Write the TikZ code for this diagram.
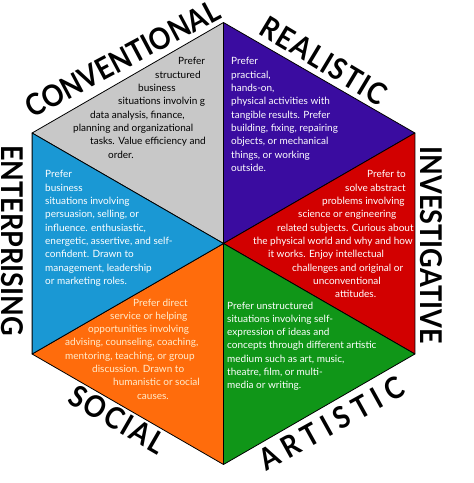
\documentclass[tikz,border=0pt]{standalone}
\usepackage{fontspec}
\setmainfont{Lato}
\definecolor{convgray}{RGB}{200,200,200}
\definecolor{realpurple}{RGB}{58,12,160}
\definecolor{invred}{RGB}{210,0,0}
\definecolor{artgreen}{RGB}{16,150,24}
\definecolor{socorange}{RGB}{255,108,12}
\definecolor{entblue}{RGB}{26,152,212}
\definecolor{cream}{RGB}{255,236,205}
\begin{document}
\begin{tikzpicture}[x=1pt, y=-1pt, line join=round, line cap=round,
  sector/.style={draw=black, line width=0.8pt},
  hexlbl/.style={font=\fontsize{30}{30}\selectfont\bfseries, inner sep=0pt, xscale=0.9},
  spaced/.style={font=\fontsize{30}{30}\selectfont\bfseries\addfontfeature{LetterSpace=#1}},
  blurb/.style={font=\fontsize{10}{13.3}\selectfont, align=left, inner sep=0pt, anchor=north west}]
\useasboundingbox (0,0) rectangle (474,483);
% hexagon corners
\coordinate (c) at (223.5,243.5);
\coordinate (t) at (223.5,22.5);
\coordinate (ul) at (32.1,133);
\coordinate (ll) at (32.1,354);
\coordinate (b) at (223.5,464.5);
\coordinate (lr) at (414.9,354);
\coordinate (ur) at (414.9,133);
% sectors
\filldraw[sector, fill=convgray] (c) -- (ul) -- (t) -- cycle;
\filldraw[sector, fill=realpurple] (c) -- (t) -- (ur) -- cycle;
\filldraw[sector, fill=invred] (c) -- (ur) -- (lr) -- cycle;
\filldraw[sector, fill=artgreen] (c) -- (lr) -- (b) -- cycle;
\filldraw[sector, fill=socorange] (c) -- (b) -- (ll) -- cycle;
\filldraw[sector, fill=entblue] (c) -- (ll) -- (ul) -- cycle;
% type names
\node[rotate=28, hexlbl] (conv) at (122.5,58.5) {CONVENTIONAL};
\node[rotate=-31, hexlbl, spaced=5] (real) at (324,60.5) {REALISTIC};
\node[rotate=-90, hexlbl] (inv) at (431,245) {INVESTIGATIVE};
\node[rotate=29, hexlbl, spaced=23] (art) at (331.5,423.5) {ARTISTIC};
\node[rotate=-30, hexlbl, spaced=8] (soc) at (117.5,419.5) {SOCIAL};
\node[rotate=-90, hexlbl] (ent) at (12,240.5) {ENTERPRISING};
% descriptions
\node[blurb] (convtext) at (73,57.5) {\hspace*{105pt}Prefer\\ \hspace*{82pt}structured\\
  \hspace*{65pt}business\\ \hspace*{45pt}situations involvin g\\ \hspace*{17pt}data analysis, finance,\\
  planning and organizational\\ \hspace*{17pt}tasks. Value efficiency and\\ \hspace*{35pt}order.};
\node[blurb, text=white] (realtext) at (231,57.5) {Prefer\\ practical,\\ hands-on,\\ physical activities with\\
  tangible results. Prefer\\ building, fixing, repairing\\ objects, or mechanical\\ things, or working\\ outside.};
\node[blurb, text=white] (invtext) at (253,170.5) {\hspace*{114pt}Prefer to\\ \hspace*{92pt}solve abstract\\
  \hspace*{69pt}problems involving\\ \hspace*{45pt}science or engineering\\ \hspace*{24pt}related subjects. Curious about\\
  the physical world and why and how\\ \hspace*{15pt}it works. Enjoy intellectual\\ \hspace*{39pt}challenges and original or\\
  \hspace*{60pt}unconventional\\ \hspace*{82pt}attitudes.};
\node[blurb, text=white] (enttext) at (45,170.5) {Prefer\\ business\\ situations involving\\ persuasion, selling, or\\
  influence. enthusiastic,\\ energetic, assertive, and self-\\ confident. Drawn to\\ management, leadership\\ or marketing roles.};
\node[blurb, text=cream] (soctext) at (65,298.5) {\hspace*{68pt}Prefer direct\\ \hspace*{45pt}service or helping\\
  \hspace*{23pt}opportunities involving\\ advising, counseling, coaching,\\ mentoring, teaching, or group\\
  \hspace*{27pt}discussion. Drawn to\\ \hspace*{48pt}humanistic or social\\ \hspace*{72pt}causes.};
\node[blurb, text=white] (arttext) at (227,301.5) {Prefer unstructured\\ situations involving self-\\ expression of ideas and\\
  concepts through different artistic\\ medium such as art, music,\\ theatre, film, or multi-\\ media or writing.};
\end{tikzpicture}
\end{document}
